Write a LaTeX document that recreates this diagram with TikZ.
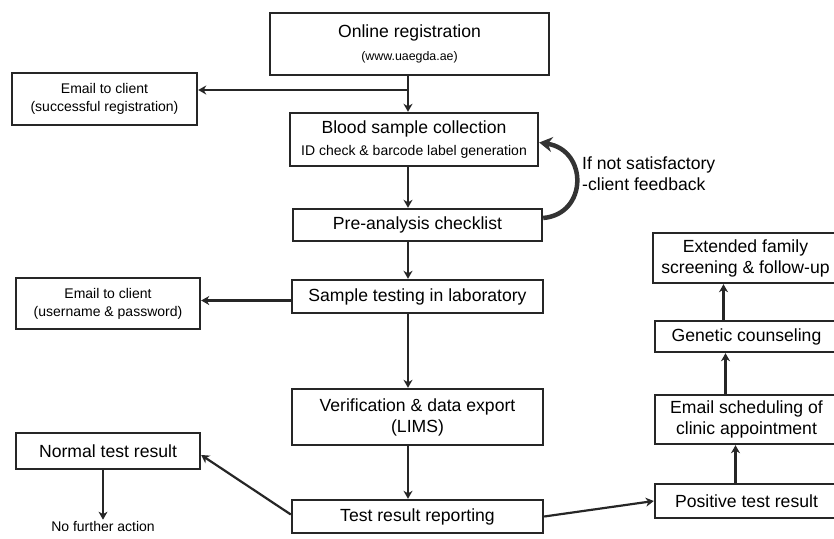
\documentclass[tikz,border=0pt]{standalone}
\usepackage{fontspec}
\setmainfont{Liberation Sans}
\usetikzlibrary{arrows.meta}

\newcommand{\mainsz}{\fontsize{17.6}{21}\selectfont}
\newcommand{\subsz}{\fontsize{14}{17}\selectfont}
\newcommand{\urlsz}{\fontsize{12.4}{15}\selectfont}

\tikzset{
  stepbox/.style={draw=black!85, line width=2.4pt, align=center, inner sep=0pt, font=\mainsz},
  arr/.style={line width=2.2pt, black!85, -{Stealth[length=8pt, width=9pt, inset=2.5pt]}}
}

\begin{document}
\begin{tikzpicture}[x=1pt, y=-1pt]

  \useasboundingbox (0,0) rectangle (834,538);

  % -- Main column --
  \node[stepbox, minimum width=279pt, minimum height=62pt] (online) at (409.5,44)
    {Online registration\\[2pt]{\urlsz (www.uaegda.ae)}};
  \node[stepbox, minimum width=248pt, minimum height=53pt] (blood) at (414,139.5)
    {Blood sample collection\\[1pt]{\subsz ID check \& barcode label generation}};
  \node[stepbox, minimum width=249pt, minimum height=32pt] (pre) at (417.5,225)
    {Pre-analysis checklist};
  \node[stepbox, minimum width=251pt, minimum height=33pt] (sample) at (417.5,296.5)
    {Sample testing in laboratory};
  \node[stepbox, minimum width=251pt, minimum height=56pt] (verif) at (417.5,417)
    {Verification \& data export\\(LIMS)};
  \node[stepbox, minimum width=251pt, minimum height=33pt] (report) at (417.5,516.5)
    {Test result reporting};

  % -- Left column --
  \node[stepbox, font=\subsz, minimum width=185pt, minimum height=52pt] (email1) at (104.5,99)
    {Email to client\\[1pt](successful registration)};
  \node[stepbox, font=\subsz, minimum width=184pt, minimum height=51pt] (email2) at (108,303.5)
    {Email to client\\[1pt](username \& password)};
  \node[stepbox, minimum width=184pt, minimum height=36pt] (normal) at (108,451)
    {Normal test result};
  \node[font=\subsz, inner sep=1pt] (noaction) at (103,526) {No further action};

  % -- Right column --
  \node[stepbox, minimum width=183pt, minimum height=34pt] (positive) at (746.5,501)
    {Positive test result};
  \node[stepbox, minimum width=183pt, minimum height=49pt] (sched) at (746.5,419.5)
    {Email scheduling of\\clinic appointment};
  \node[stepbox, minimum width=183pt, minimum height=31pt] (genetic) at (746.5,336.5)
    {Genetic counseling};
  \node[stepbox, minimum width=185pt, minimum height=50pt] (extended) at (745.5,258)
    {Extended family\\screening \& follow-up};

  % -- Feedback label --
  \node[align=left, anchor=west, font=\mainsz, inner sep=0pt] (feedback) at (582,174)
    {If not satisfactory\\-client feedback};

  % -- Main flow --
  \coordinate (split) at (408,90);
  \draw[arr] (online.south -| split) -- (blood.north -| split);
  \draw[arr] (split) -- (split -| email1.east);
  \draw[arr] (blood.south -| split) -- (pre.north -| split);
  \draw[arr] (pre.south -| split) -- (sample.north -| split);
  \draw[arr] ([yshift=-4pt]sample.west) -- ([yshift=-4pt]sample.west -| email2.east);
  \draw[arr] (sample.south -| split) -- (verif.north -| split);
  \draw[arr] (verif.south -| split) -- (report.north -| split);

  % -- Feedback loop --
  \draw[line width=4.5pt, black!80, -{Stealth[length=13pt, width=15pt]}]
    ([yshift=7pt]pre.east) .. controls (588,214) and (588,150) .. ([yshift=-3pt]blood.east);

  % -- Results --
  \draw[arr] ([yshift=2pt]report.west) -- ([yshift=-4pt]normal.east);
  \draw[arr] (noaction.north |- normal.south) -- (noaction.north);
  \draw[arr] (report.east) -- (positive.west);
  \draw[arr] ([xshift=-11pt]positive.north) -- ([xshift=-11pt]positive.north |- sched.south);
  \draw[arr] ([xshift=-21pt]sched.north) -- ([xshift=-21pt]sched.north |- genetic.south);
  \draw[arr] ([xshift=-23pt]genetic.north) -- ([xshift=-23pt]genetic.north |- extended.south);

\end{tikzpicture}
\end{document}
